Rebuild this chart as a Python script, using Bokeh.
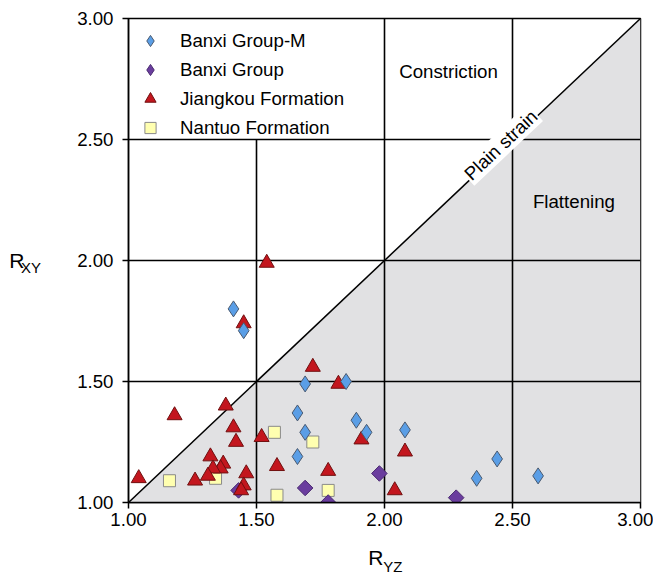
import numpy as np
from bokeh.plotting import figure
from bokeh.models import (FixedTicker, NumeralTickFormatter, LinearAxis, Legend, LegendItem)
from bokeh.core.properties import value
from bokeh.embed import file_html
from bokeh.resources import INLINE

# ---------------- data ----------------
banxi_m_x = [1.41, 1.45, 1.69, 1.85, 1.66, 1.69, 1.89, 1.93, 2.08, 1.66, 2.36, 2.44, 2.60]
banxi_m_y = [1.80, 1.71, 1.49, 1.50, 1.37, 1.29, 1.34, 1.29, 1.30, 1.19, 1.10, 1.18, 1.11]

banxi_x = [1.43, 1.69, 1.78, 1.98, 2.28]
banxi_y = [1.05, 1.06, 1.00, 1.12, 1.02]

jiangkou_x = [1.54, 1.45, 1.72, 1.82, 1.38, 1.18, 1.41, 1.42, 1.52, 1.91, 2.08, 1.32,
              1.37, 1.36, 1.33, 1.31, 1.46, 1.45, 1.44, 1.04, 1.26, 1.58, 1.78, 2.04]
jiangkou_y = [1.99, 1.74, 1.56, 1.49, 1.40, 1.36, 1.31, 1.25, 1.27, 1.26, 1.21, 1.19,
              1.16, 1.14, 1.14, 1.11, 1.12, 1.07, 1.05, 1.10, 1.09, 1.15, 1.13, 1.05]

nantuo_x = [1.16, 1.34, 1.57, 1.72, 1.58, 1.78]
nantuo_y = [1.09, 1.10, 1.29, 1.25, 1.03, 1.05]

ticks = [1.0, 1.5, 2.0, 2.5, 3.0]
grid_vals = [1.5, 2.0, 2.5]
axis_min, axis_max = 1.0, 3.0
legend_bottom = 2.5

FONT = "Liberation Sans"
FS = "18.7px"
NB = "\u00a0"

# ---------------- figure ----------------
FW, FH = 512, 484
p = figure(frame_width=FW, frame_height=FH, x_range=(axis_min, axis_max), y_range=(axis_min, axis_max),
           min_border_left=128, min_border_right=13, min_border_top=18, min_border_bottom=71,
           output_backend="svg", toolbar_location=None)
p.xgrid.visible = False
p.ygrid.visible = False
p.outline_line_color = "black"
p.outline_line_width = 1.5
p.background_fill_color = "white"

for ax in (p.xaxis[0], p.yaxis[0]):
    ax.ticker = FixedTicker(ticks=ticks)
    ax.formatter = NumeralTickFormatter(format="0.00")
    ax.minor_tick_line_color = None
    ax.major_tick_in = 0
    ax.major_tick_out = 6
    ax.major_tick_line_width = 1.5
    ax.axis_line_width = 1.5
    ax.axis_line_color = "black"
    ax.major_tick_line_color = "black"
    ax.major_label_text_font = FONT
    ax.major_label_text_font_size = FS
    ax.major_label_text_color = "black"
    ax.axis_label_text_font = FONT
    ax.axis_label_text_font_style = "normal"
    ax.axis_label_text_color = "black"
p.yaxis[0].major_label_standoff = 9
p.xaxis[0].major_label_standoff = 4

# axis titles: R with subscripts, built from two axis labels each
p.xaxis[0].axis_label = "R" + NB * 3
p.xaxis[0].axis_label_text_font_size = "21px"
p.xaxis[0].axis_label_standoff = 17

p.yaxis[0].axis_label = NB + "\nXY"
p.yaxis[0].axis_label_text_font_size = "15px"
p.yaxis[0].axis_label_text_line_height = 0.8
p.yaxis[0].axis_label_orientation = "horizontal"
p.yaxis[0].axis_label_standoff = 33


def label_axis(text, size, standoff, orientation="parallel"):
    a = LinearAxis(ticker=FixedTicker(ticks=[]), axis_label=text)
    a.axis_line_color = None
    a.major_tick_line_color = None
    a.minor_tick_line_color = None
    a.major_tick_out = 0
    a.major_label_standoff = 0
    a.axis_label_standoff = standoff
    a.axis_label_text_font = FONT
    a.axis_label_text_font_style = "normal"
    a.axis_label_text_font_size = size
    a.axis_label_text_color = "black"
    a.axis_label_orientation = orientation
    return a


p.add_layout(label_axis(NB * 4 + "YZ", "15px", -14), "below")
p.add_layout(label_axis("R", "21px", -6, "horizontal"), "left")

# flattening shading (below 1:1 line)
p.patch([axis_min, axis_max, axis_max], [axis_min, axis_min, axis_max],
        fill_color="#e1e1e3", line_color=None)

# grid lines (vertical 1.5 stops at legend box)
xs, ys = [], []
for g in grid_vals:
    top = legend_bottom if g < 2.0 else axis_max
    xs.append([g, g]); ys.append([axis_min, top])
    xs.append([axis_min, axis_max]); ys.append([g, g])
p.multi_line(xs, ys, line_color="black", line_width=1.6)

# plain strain line
p.line([axis_min, axis_max], [axis_min, axis_max], line_color="black", line_width=1.5)

ang = float(np.arctan2(FH, FW))
d = 4.0
p.text(x=[2.465], y=[2.465], text=["Plain strain"], angle=ang,
       text_align="center", text_baseline="middle",
       x_offset=-d * np.sin(ang), y_offset=-d * np.cos(ang),
       text_font=value(FONT), text_font_size=FS, text_color="black",
       background_fill_color="white", padding=1)

p.text(x=[2.25], y=[2.78], text=["Constriction"], text_align="center", text_baseline="middle",
       text_font=value(FONT), text_font_size=FS, text_color="black")
p.text(x=[2.74], y=[2.245], text=["Flattening"], text_align="center", text_baseline="middle",
       text_font=value(FONT), text_font_size=FS, text_color="black")

# markers
PURPLE = "#6a3d9e"
r_n = p.scatter(nantuo_x, nantuo_y, marker="square", size=12,
                fill_color="#ffffb0", line_color="#8a8a8a", line_width=1)
r_b = p.scatter(banxi_x, banxi_y, marker="square", size=11, angle=np.pi / 4,
                fill_color=PURPLE, line_color="#4a2a70", line_width=1)
r_j = p.scatter(jiangkou_x, jiangkou_y, marker="triangle", size=15,
                fill_color="#c3161e", line_color="#701010", line_width=1)
r_m = p.scatter(banxi_m_x, banxi_m_y, marker="diamond", size=16,
                fill_color="#5a9ee6", line_color="#4a5a70", line_width=1)
# legend-only glyph for the (rotated-square) Banxi Group symbol (not drawn in the plot)
r_b_leg = p.scatter(x=[np.nan], y=[np.nan], marker="diamond", size=15,
                    fill_color=PURPLE, line_color="#4a2a70", line_width=1)

legend = Legend(items=[
    LegendItem(label="Banxi Group-M", renderers=[r_m]),
    LegendItem(label="Banxi Group", renderers=[r_b_leg]),
    LegendItem(label="Jiangkou Formation", renderers=[r_j]),
    LegendItem(label="Nantuo Formation", renderers=[r_n]),
], location="top_left")
legend.margin = 0
legend.padding = 8
legend.spacing = 0
legend.glyph_width = 28
legend.glyph_height = 29
legend.label_height = 29
legend.label_standoff = 16
legend.label_text_font = FONT
legend.label_text_font_size = FS
legend.label_text_color = "black"
legend.background_fill_alpha = 0
legend.border_line_alpha = 0
p.add_layout(legend, "center")

open("out.html", "w").write(file_html(p, INLINE))
